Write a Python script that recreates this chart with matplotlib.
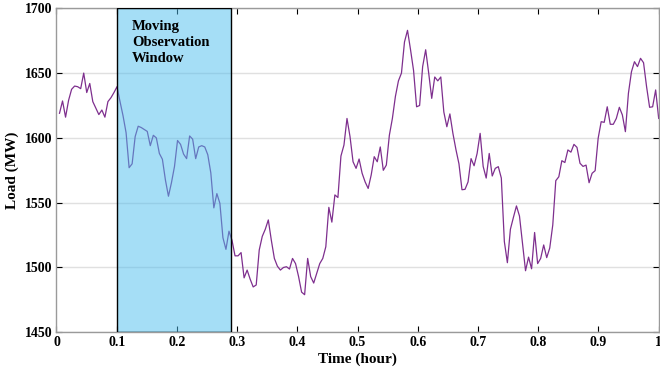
import numpy as np
import matplotlib
matplotlib.use("Agg")
import matplotlib.pyplot as plt
from matplotlib.patches import Rectangle

# load readings (MW), sampled evenly from t=0.005 h to t=1 h
load_mw = [
    1619, 1628.5, 1616, 1629, 1637.5, 1640, 1639.5, 1638, 1650, 1635,
    1642, 1628, 1623, 1618, 1621.5, 1616, 1628, 1631, 1635, 1639.5,
    1628, 1617, 1604, 1577, 1580, 1601, 1609, 1608, 1606.5, 1605,
    1594, 1602, 1600, 1588, 1583.5, 1567.5, 1555, 1565.5, 1578, 1598,
    1595, 1587.5, 1584, 1601.5, 1599, 1584, 1593, 1594, 1593, 1587,
    1573, 1546, 1557, 1549.5, 1523, 1514, 1528, 1521, 1509, 1509,
    1511.5, 1492, 1498, 1491, 1485, 1486.5, 1513.5, 1524, 1529.5, 1536.7,
    1521, 1507, 1501, 1498, 1500, 1500.6, 1498.8, 1507, 1503, 1493,
    1481, 1479, 1507, 1493, 1488, 1495.5, 1503, 1507, 1516, 1546.4,
    1535, 1556, 1554, 1586, 1594.5, 1615, 1601, 1581.6, 1576.5, 1583.7,
    1572.7, 1566, 1561, 1571.4, 1585.5, 1581.6, 1593, 1575, 1579, 1602,
    1615, 1632, 1644, 1650, 1674, 1683, 1668, 1652, 1624, 1625,
    1655, 1668, 1650, 1630.5, 1647, 1644, 1647, 1620, 1608.6, 1618.5,
    1603.5, 1591, 1580, 1560, 1560.3, 1566, 1584, 1578.5, 1588, 1603.5,
    1578, 1569, 1588, 1570.6, 1576.5, 1577.8, 1569, 1520, 1503.7, 1529.5,
    1538.7, 1547.5, 1539.7, 1518.7, 1497.5, 1508, 1499, 1527, 1503, 1507,
    1517.4, 1507.6, 1515, 1532.8, 1567, 1570, 1582.4, 1581, 1590.7, 1589,
    1595, 1592.7, 1580.4, 1578, 1579, 1565.4, 1572.7, 1574.7, 1599.7, 1612.5,
    1612, 1624, 1610.5, 1610.5, 1615, 1623.6, 1617.7, 1604.8, 1634.4, 1651,
    1658.8, 1655, 1661.4, 1658, 1639.5, 1623.6, 1624, 1637, 1615,
]
time_h = np.linspace(0.005, 1.0, len(load_mw))

window_start = 0.1
window_end = 0.29
window_label = "Moving\nObservation\nWindow"

x_ticks = [0, 0.1, 0.2, 0.3, 0.4, 0.5, 0.6, 0.7, 0.8, 0.9, 1]
x_tick_labels = ["0", "0.1", "0.2", "0.3", "0.4", "0.5", "0.6", "0.7", "0.8", "0.9", "1"]
y_ticks = [1450, 1500, 1550, 1600, 1650, 1700]

plt.rcParams["font.family"] = ["Liberation Serif", "DejaVu Serif"]
plt.rcParams["font.weight"] = "bold"

fig = plt.figure(figsize=(6.6, 3.77), dpi=100)
ax = fig.add_axes([0.0856, 0.1186, 0.9124, 0.8594])

ax.plot(time_h, load_mw, color="#7E2F8E", linewidth=0.9, zorder=2)

# translucent window drawn over the line, like the original
ax.add_patch(Rectangle((window_start, 1450), window_end - window_start, 250,
                       facecolor=(0.301, 0.745, 0.933, 0.5),
                       edgecolor="black", linewidth=1.0, zorder=3))
ax.text(window_start + 0.025, 1691, window_label, fontsize=10.5, fontweight="bold",
        va="top", ha="left", linespacing=1.3, zorder=4)

ax.set_xlim(0, 1)
ax.set_ylim(1450, 1700)
ax.set_xticks(x_ticks)
ax.set_xticklabels(x_tick_labels)
ax.set_yticks(y_ticks)
ax.tick_params(direction="in", top=True, right=True, length=4, width=0.8,
               labelsize=10, colors="black", pad=3)
for lab in ax.get_xticklabels() + ax.get_yticklabels():
    lab.set_fontweight("bold")

ax.yaxis.grid(True, color="#e0e0e0", linewidth=1.0)
ax.set_axisbelow(True)
for sp in ax.spines.values():
    sp.set_color("#9a9a9a")
    sp.set_linewidth(1.0)

ax.set_xlabel("Time (hour)", fontsize=11, fontweight="bold", labelpad=2)
ax.set_ylabel("Load (MW)", fontsize=11, fontweight="bold", labelpad=4)

fig.savefig("out.png", dpi=100)
plt.close(fig)
